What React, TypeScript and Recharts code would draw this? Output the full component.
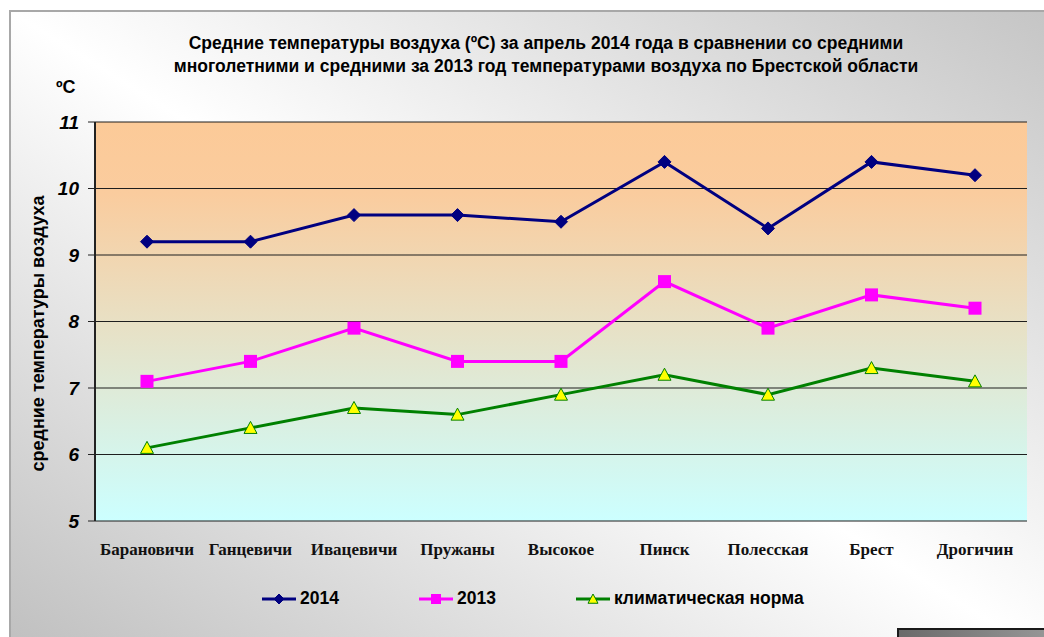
import { LineChart, Line, XAxis, YAxis, CartesianGrid, Legend } from "recharts";

const STATIONS = [
  "Барановичи",
  "Ганцевичи",
  "Ивацевичи",
  "Пружаны",
  "Высокое",
  "Пинск",
  "Полесская",
  "Брест",
  "Дрогичин",
];
const T_2014 = [9.2, 9.2, 9.6, 9.6, 9.5, 10.4, 9.4, 10.4, 10.2];
const T_2013 = [7.1, 7.4, 7.9, 7.4, 7.4, 8.6, 7.9, 8.4, 8.2];
const T_NORM = [6.1, 6.4, 6.7, 6.6, 6.9, 7.2, 6.9, 7.3, 7.1];
const Y_TICKS = [5, 6, 7, 8, 9, 10, 11];
const EDGE_TICKS = [0, 1, 2, 3, 4, 5, 6, 7, 8, 9];
const SERIES_ORDER = ["y2014", "y2013", "norm"];

const data = STATIONS.map((name, i) => ({
  name,
  y2014: T_2014[i],
  y2013: T_2013[i],
  norm: T_NORM[i],
}));

const SANS = "'Liberation Sans', Arial, sans-serif";
const SERIF = "'Liberation Serif', 'Times New Roman', serif";

/* ===== markers ===== */
const Marker = ({ kind, cx, cy, s = 6.5 }: any) => {
  if (cx == null || cy == null) return null;
  if (kind === "diamond")
    return (
      <polygon
        points={`${cx},${cy - s} ${cx + s},${cy} ${cx},${cy + s} ${cx - s},${cy}`}
        fill="#000080"
        stroke="#000080"
      />
    );
  if (kind === "square")
    return (
      <rect x={cx - s} y={cy - s} width={s * 2} height={s * 2} fill="#ff00ff" />
    );
  return (
    <polygon
      points={`${cx},${cy - s} ${cx + s},${cy + s * 0.85} ${cx - s},${cy + s * 0.85}`}
      fill="#ffff00"
      stroke="#008000"
      strokeWidth={1}
    />
  );
};

const KINDS: Record<string, string> = {
  y2014: "diamond",
  y2013: "square",
  norm: "triangle",
};

const renderLegend = ({ payload }: any) => {
  const items = [...(payload || [])].sort(
    (a: any, b: any) =>
      SERIES_ORDER.indexOf(a.dataKey) - SERIES_ORDER.indexOf(b.dataKey)
  );
  return (
    <div style={{ display: "flex", gap: 80, alignItems: "center" }}>
      {items.map((entry: any) => (
        <div
          key={entry.value}
          style={{ display: "flex", alignItems: "center", gap: 4 }}
        >
          <svg width={34} height={16}>
            <line x1={0} y1={8} x2={34} y2={8} stroke={entry.color} strokeWidth={3} />
            <Marker kind={KINDS[entry.dataKey]} cx={17} cy={8} s={5} />
          </svg>
          <span
            style={{
              fontFamily: SANS,
              fontWeight: 700,
              fontSize: 17.5,
              color: "#000",
            }}
          >
            {entry.value}
          </span>
        </div>
      ))}
    </div>
  );
};

export default function App() {
  return (
    <div
      style={{
        position: "absolute",
        left: 0,
        top: 0,
        width: 1044,
        height: 637,
        overflow: "hidden",
        background: "#fff",
      }}
    >
      {/* chart frame */}
      <div
        style={{
          position: "absolute",
          left: 9,
          top: 10,
          width: 1060,
          height: 660,
          borderLeft: "2px solid #a8a8a8",
          borderTop: "2px solid #a8a8a8",
          background:
            "linear-gradient(to top right, #bdbdbd 0%, #ffffff 50%, #c4c4c4 100%)",
        }}
      />
      <div
        style={{
          position: "absolute",
          left: 897,
          top: 628,
          width: 160,
          height: 20,
          borderLeft: "2px solid #1a1a1a",
          borderTop: "2px solid #1a1a1a",
          background: "linear-gradient(to right, #6a6a6a, #9a9a9a)",
        }}
      />

      <div
        style={{
          position: "absolute",
          left: 0,
          top: 32,
          width: 1092,
          textAlign: "center",
          fontFamily: SANS,
          fontWeight: 700,
          fontSize: 17.5,
          lineHeight: "23px",
          color: "#000",
        }}
      >
        Средние температуры воздуха (ºС) за апрель 2014 года в сравнении со средними
        <br />
        многолетними и средними за 2013 год температурами воздуха по Брестской области
      </div>
      <div
        style={{
          position: "absolute",
          left: 56,
          top: 77,
          fontFamily: SANS,
          fontWeight: 700,
          fontSize: 18,
          color: "#000",
        }}
      >
        ºС
      </div>

      <div style={{ position: "absolute", left: 0, top: 0 }}>
        <LineChart
          width={1044}
          height={637}
          data={data}
          margin={{ top: 122, right: 17, left: 0, bottom: 0 }}
        >
          <defs>
            <linearGradient id="plotBg" x1="0" y1="0" x2="0" y2="1">
              <stop offset="0%" stopColor="#fcca98" />
              <stop offset="18%" stopColor="#facc9e" />
              <stop offset="100%" stopColor="#ccffff" />
            </linearGradient>
          </defs>
          <CartesianGrid
            vertical={false}
            stroke="#1e1e1e"
            strokeWidth={1.2}
            fill="url(#plotBg)"
            fillOpacity={1}
            yAxisId="t"
            xAxisId="cat"
          />
          <XAxis
            xAxisId="edge"
            type="number"
            domain={[0, 9]}
            ticks={EDGE_TICKS}
            allowDataOverflow
            height={0}
            mirror
            tick={false}
            tickSize={5}
            tickLine={{ stroke: "#222" }}
            axisLine={{ stroke: "#222", strokeWidth: 2 }}
          />
          <XAxis
            xAxisId="cat"
            dataKey="name"
            height={116}
            padding={{ left: 52, right: 52 }}
            axisLine={false}
            tickLine={false}
            tickSize={0}
            tickMargin={22}
            interval={0}
            tick={{
              fontFamily: SERIF,
              fontWeight: 700,
              fontSize: 17,
              fill: "#111",
            }}
          />
          <YAxis
            yAxisId="t"
            width={95}
            domain={[5, 11]}
            ticks={Y_TICKS}
            allowDataOverflow
            tickSize={7}
            tickMargin={9}
            tickLine={{ stroke: "#222" }}
            axisLine={{ stroke: "#222", strokeWidth: 2 }}
            tick={{
              fontFamily: SANS,
              fontWeight: 700,
              fontStyle: "italic",
              fontSize: 19,
              fill: "#000",
            }}
            label={{
              value: "средние температуры воздуха",
              angle: -90,
              position: "center",
              dx: -10,
              dy: 12,
              style: {
                fontFamily: SANS,
                fontWeight: 700,
                fontSize: 18,
                fill: "#000",
              },
            }}
          />
          <YAxis
            yAxisId="r"
            orientation="right"
            width={0}
            domain={[5, 11]}
            tick={false}
            tickLine={false}
            axisLine={{ stroke: "#222", strokeWidth: 2 }}
          />
          <Legend
            layout="horizontal"
            verticalAlign="middle"
            align="center"
            content={renderLegend}
            wrapperStyle={{ left: 262, top: 588, width: "auto" }}
          />
          <Line
            xAxisId="cat"
            yAxisId="t"
            type="linear"
            dataKey="y2014"
            name="2014"
            stroke="#000080"
            strokeWidth={3}
            dot={(p: any) => <Marker key={p.index} kind="diamond" cx={p.cx} cy={p.cy} />}
            isAnimationActive={false}
          />
          <Line
            xAxisId="cat"
            yAxisId="t"
            type="linear"
            dataKey="y2013"
            name="2013"
            stroke="#ff00ff"
            strokeWidth={3}
            dot={(p: any) => <Marker key={p.index} kind="square" cx={p.cx} cy={p.cy} />}
            isAnimationActive={false}
          />
          <Line
            xAxisId="cat"
            yAxisId="t"
            type="linear"
            dataKey="norm"
            name="климатическая норма"
            stroke="#008000"
            strokeWidth={3}
            dot={(p: any) => <Marker key={p.index} kind="triangle" cx={p.cx} cy={p.cy} />}
            isAnimationActive={false}
          />
        </LineChart>
      </div>
    </div>
  );
}
